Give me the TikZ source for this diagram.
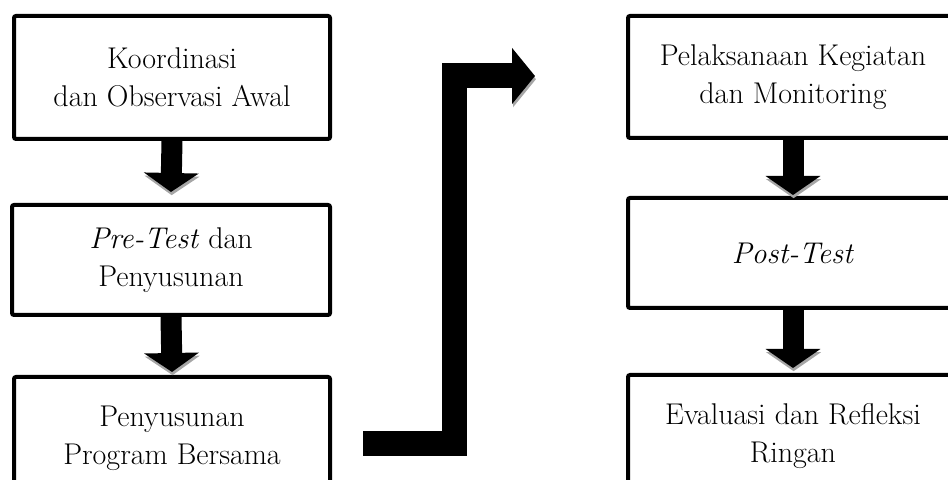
\documentclass[tikz,border=0pt]{standalone}
\usepackage{tikz}
\usetikzlibrary{arrows.meta,positioning}

\tikzset{
    flowbox/.style={draw, line width=2pt, rounded corners=1pt, fill=white, align=center,
        font=\fontsize{15}{19}\selectfont},
    blockarrow/.style={line width=10.5pt, -{Triangle[width=27pt,length=9.5pt]},
        preaction={draw=black!35, transform canvas={shift={(0.3pt,-1.6pt)}}}},
    jumparrow/.style={line width=12.5pt, line join=miter, -{Triangle[width=27.5pt,length=11.5pt]},
        preaction={draw=black!35, transform canvas={shift={(0.5pt,-1.6pt)}}}}
}

\begin{document}
\begin{tikzpicture}[x=0.5pt, y=-0.5pt]
        \useasboundingbox (0,0) rectangle (948,480);
        \clip (0,0) rectangle (948,480);

        % left column
        \node[flowbox, minimum width=158pt, minimum height=61.5pt] (koord) at (172,77.5) {Koordinasi\\dan Observasi Awal};
        \node[flowbox, minimum width=159pt, minimum height=55pt] (pretest) at (171,260) {\textit{Pre-Test} dan\\Penyusunan};
        \node[flowbox, minimum width=158pt, minimum height=61.5pt] (program) at (172,438.5) {Penyusunan\\Program Bersama};

        % right column
        \node[flowbox, minimum width=165pt, minimum height=61pt] (pelaksanaan) at (793,77) {Pelaksanaan Kegiatan\\dan Monitoring};
        \node[flowbox, minimum width=165pt, minimum height=55pt] (posttest) at (793,253) {\textit{Post-Test}};
        \node[flowbox, minimum width=165pt, minimum height=61.5pt] (evaluasi) at (793,436.5) {Evaluasi dan Refleksi\\Ringan};

        \draw[blockarrow] (koord.south) -- ([yshift=5.5pt]pretest.north);
        \draw[blockarrow] (pretest.south) -- ([yshift=1.5pt]program.north);
        \draw[blockarrow] (pelaksanaan.south) -- ([yshift=0.5pt]posttest.north);
        \draw[blockarrow] (posttest.south) -- ([yshift=2.5pt]evaluasi.north);

        % jump to the second column
        \coordinate (jumpstart) at (363,444);
        \coordinate (jumpend) at (535,76);
        \draw[jumparrow] (jumpstart) -| (454,260) |- (jumpend);

    \end{tikzpicture}
\end{document}
